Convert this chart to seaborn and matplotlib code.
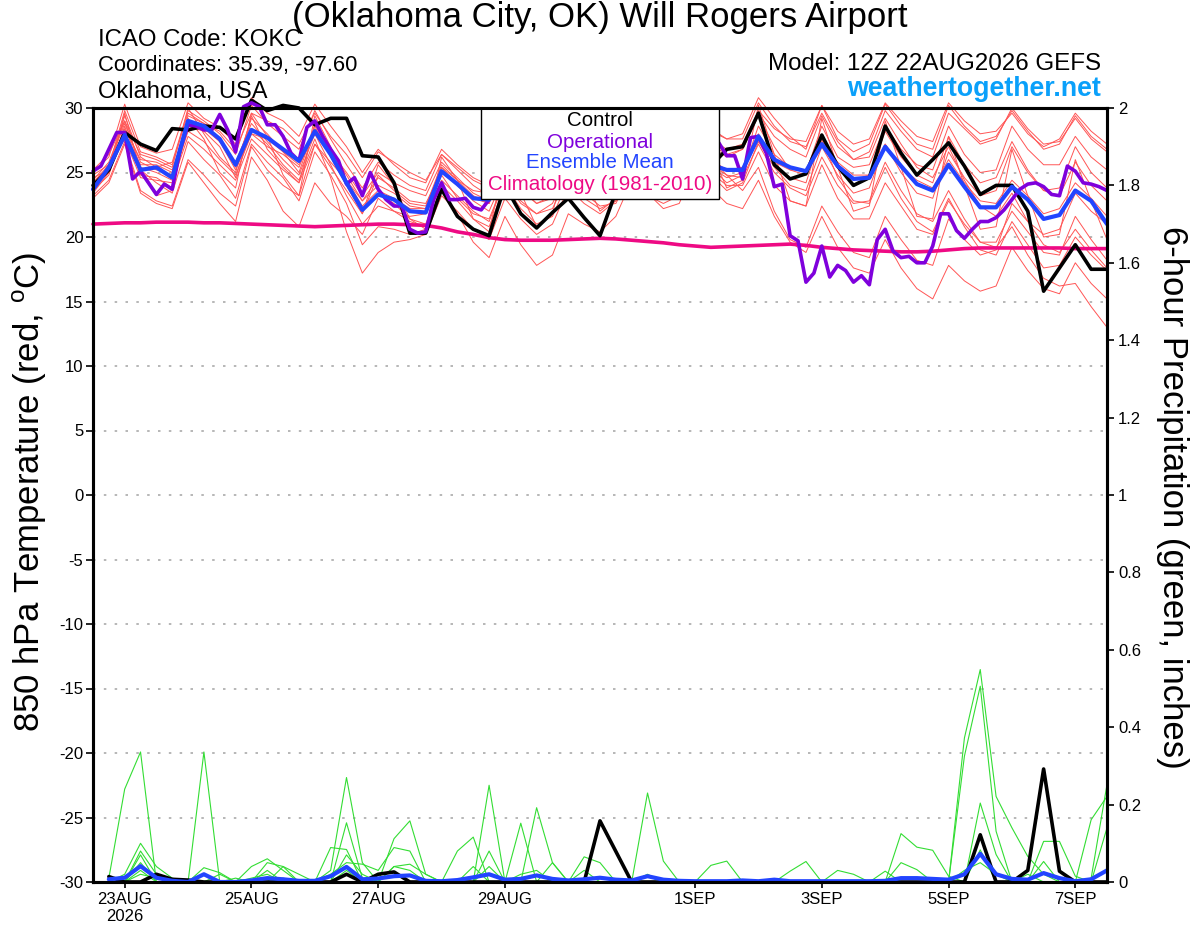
import pandas as pd
import seaborn as sns
import matplotlib.pyplot as plt
from matplotlib.patches import Rectangle


# run start times: temperature from 12Z 22AUG (6h steps, operational 3h), precip from 18Z 22AUG
temp_start = "2026-08-22 12:00"
prcp_start = "2026-08-22 18:00"

xtick_dates = ["2026-08-23", "2026-08-25", "2026-08-27", "2026-08-29",
               "2026-09-01", "2026-09-03", "2026-09-05", "2026-09-07"]
xtick_labels = ["23AUG\n2026", "25AUG", "27AUG", "29AUG", "1SEP", "3SEP", "5SEP", "7SEP"]

# 850 hPa temperature (C)
temp_control = [24.0, 25.2, 28.1, 27.2, 26.7, 28.4, 28.3, 28.6, 28.5, 27.6,
                30.6, 29.8, 30.2, 30.0, 28.7, 29.2, 29.2, 26.3, 26.2, 24.2,
                20.3, 20.3, 23.7, 21.6, 20.6, 20.1, 24.0, 21.8, 20.7, 21.9,
                23.0, 21.5, 20.1, 23.5, 26.0, 24.8, 24.2, 25.5, 27.0, 25.5,
                26.8, 27.0, 29.6, 25.6, 24.5, 24.9, 27.9, 25.5, 24.0, 24.6,
                28.6, 26.5, 24.8, 26.0, 27.3, 25.5, 23.3, 24.0, 24.0, 22.0,
                15.8, 17.6, 19.4, 17.5, 17.5]

temp_mean = [23.7, 25.4, 27.9, 25.2, 25.4, 24.6, 29.0, 28.6, 27.6, 25.6,
             28.3, 27.7, 26.8, 25.9, 28.2, 26.4, 24.2, 22.1, 23.3, 22.9,
             22.0, 21.9, 25.1, 24.1, 23.0, 22.9, 24.5, 23.6, 23.3, 23.8,
             25.0, 24.2, 23.6, 24.5, 26.0, 25.0, 24.6, 25.3, 26.8, 25.6,
             25.2, 25.2, 27.8, 26.0, 25.4, 25.1, 27.2, 25.5, 24.5, 24.6,
             27.0, 25.5, 24.1, 23.6, 25.6, 23.9, 22.3, 22.3, 23.9, 22.9,
             21.4, 21.7, 23.6, 22.8, 21.0]

temp_climo = [21.0, 21.05, 21.1, 21.1, 21.15, 21.15, 21.15, 21.1, 21.1, 21.05,
              21.0, 20.95, 20.9, 20.85, 20.8, 20.85, 20.9, 20.95, 21.0, 21.0,
              20.95, 20.9, 20.7, 20.4, 20.2, 19.95, 19.8, 19.75, 19.75, 19.75,
              19.8, 19.85, 19.9, 19.85, 19.75, 19.65, 19.55, 19.4, 19.3, 19.2,
              19.25, 19.3, 19.35, 19.4, 19.45, 19.35, 19.2, 19.1, 19.0, 18.95,
              18.9, 18.85, 18.85, 18.9, 19.0, 19.1, 19.15, 19.15, 19.15, 19.15,
              19.15, 19.15, 19.1, 19.1, 19.1]

# operational run, 3-hourly
temp_oper = [25.1, 25.5, 26.8, 28.1, 28.1, 24.5, 25.1, 24.2, 23.3, 24.1,
             23.7, 26.8, 28.7, 28.6, 28.3, 28.3, 29.5, 28.3, 26.6, 30.1,
             30.4, 30.1, 28.7, 28.7, 27.8, 26.5, 25.9, 28.5, 29.0, 27.8,
             26.8, 25.9, 24.1, 24.6, 23.2, 25.0, 23.7, 22.9, 22.4, 22.4,
             20.6, 20.3, 20.4, 22.9, 24.2, 22.9, 22.9, 23.0, 22.3, 22.1,
             22.9, 23.8, 24.6, 24.2, 23.6, 23.4, 23.3, 23.5, 23.9, 24.6,
             25.2, 24.8, 24.3, 24.0, 23.8, 24.2, 25.0, 26.0, 26.6, 26.0,
             25.2, 25.0, 25.4, 26.2, 27.6, 28.4, 27.2, 26.8, 26.6, 27.3,
             26.3, 26.3, 24.5, 27.7, 27.8, 26.5, 23.9, 24.1, 20.1, 19.7,
             16.5, 17.2, 19.3, 16.9, 17.8, 17.4, 16.5, 17.0, 16.3, 19.8,
             20.6, 18.9, 18.4, 18.5, 18.0, 18.0, 19.3, 21.8, 21.8, 20.5,
             19.9, 20.6, 21.2, 21.2, 21.5, 22.1, 22.9, 23.7, 24.1, 24.2,
             23.9, 23.3, 23.2, 25.5, 25.1, 24.2, 24.1, 23.9, 23.6]

# ensemble members (red spaghetti)
temp_m01 = [25.0, 26.2, 30.3, 27.0, 26.5, 26.8, 30.4, 29.2, 28.5, 27.2, 30.8, 29.6, 29.0, 27.8, 30.3, 28.6,
            27.0, 25.0, 26.8, 25.6, 24.6, 24.2, 26.8, 25.6, 24.6, 24.0, 26.8, 25.2, 24.6, 25.0, 27.4, 26.2,
            25.6, 26.2, 28.6, 27.2, 26.6, 27.2, 29.8, 28.2, 27.6, 28.0, 30.8, 29.2, 27.8, 26.8, 30.2, 27.6,
            26.6, 27.2, 30.3, 28.6, 27.2, 26.8, 30.2, 28.6, 27.4, 27.8, 29.8, 28.2, 26.8, 27.2, 29.4, 27.8, 26.8]
temp_m02 = [23.2, 24.4, 27.4, 23.6, 22.8, 22.4, 26.0, 24.8, 23.4, 22.4, 27.0, 25.2, 24.0, 23.2, 27.2, 25.4,
            23.6, 21.8, 24.8, 23.6, 22.6, 22.4, 25.6, 24.4, 23.2, 22.6, 25.8, 24.0, 23.0, 23.4, 26.2, 25.0,
            24.2, 24.8, 27.6, 26.2, 25.0, 25.8, 28.8, 27.2, 26.4, 26.8, 29.6, 27.8, 26.8, 26.2, 29.4, 27.0,
            26.0, 26.6, 29.8, 28.2, 26.8, 26.2, 29.6, 28.4, 27.2, 27.6, 30.0, 28.4, 27.2, 27.4, 29.2, 27.6, 26.6]
temp_m03 = [24.2, 25.6, 28.8, 25.8, 25.2, 24.8, 29.4, 28.8, 27.6, 25.4, 29.2, 28.0, 26.6, 25.0, 28.6, 26.2,
            24.0, 22.0, 23.4, 22.6, 21.4, 21.0, 24.4, 23.2, 22.0, 21.2, 24.4, 22.8, 21.8, 22.6, 25.2, 24.0,
            23.2, 23.8, 26.4, 25.0, 24.2, 24.6, 27.2, 25.6, 24.8, 24.6, 27.2, 25.0, 23.8, 23.2, 26.2, 24.0,
            22.6, 22.8, 25.8, 23.6, 21.8, 21.2, 23.6, 21.4, 19.6, 19.2, 20.8, 18.6, 16.8, 16.2, 16.4, 14.6, 13.0]
temp_m04 = [24.6, 25.2, 28.2, 24.8, 24.6, 23.8, 28.6, 28.2, 27.0, 24.6, 28.4, 27.2, 25.6, 24.4, 27.6, 24.6,
            20.4, 17.2, 18.8, 19.6, 19.8, 20.2, 23.2, 22.0, 20.6, 19.8, 23.0, 21.4, 20.2, 21.0, 23.8, 22.6,
            21.8, 22.8, 25.6, 24.0, 23.4, 24.0, 27.0, 25.4, 24.2, 24.8, 28.0, 25.6, 24.6, 24.2, 28.0, 25.6,
            24.4, 24.8, 28.2, 26.2, 24.8, 24.2, 27.8, 25.6, 24.2, 24.6, 27.4, 25.2, 23.6, 23.2, 25.8, 24.0, 22.8]
temp_m05 = [23.8, 25.0, 29.4, 26.2, 25.4, 25.8, 29.8, 29.0, 28.0, 26.4, 30.2, 28.8, 27.8, 26.8, 29.8, 27.6,
            25.6, 23.8, 25.8, 24.8, 24.0, 23.6, 26.4, 25.2, 24.0, 23.2, 26.0, 25.0, 24.2, 24.6, 27.0, 25.8,
            24.8, 25.2, 27.8, 26.6, 25.8, 26.4, 28.6, 27.0, 26.2, 26.8, 29.4, 27.0, 25.2, 24.8, 27.6, 24.6,
            22.8, 22.6, 25.4, 23.0, 21.2, 20.4, 23.0, 20.8, 19.0, 18.6, 21.2, 19.4, 17.6, 17.8, 20.0, 18.6, 17.4]
temp_m06 = [24.4, 25.8, 29.0, 25.4, 25.0, 24.4, 28.2, 27.4, 26.0, 24.8, 28.0, 27.0, 26.4, 25.4, 28.4, 26.8,
            24.8, 22.8, 24.0, 23.4, 22.4, 22.2, 25.4, 24.0, 22.8, 22.0, 24.8, 23.6, 22.6, 23.2, 26.0, 24.6,
            23.6, 24.0, 26.6, 25.4, 24.8, 25.2, 27.6, 26.0, 24.8, 23.6, 25.4, 22.0, 19.8, 19.2, 22.4, 20.4,
            18.8, 18.4, 21.6, 19.8, 18.2, 17.8, 21.4, 19.8, 18.6, 19.0, 22.6, 21.2, 20.2, 20.6, 23.4, 22.0, 21.0]
temp_m07 = [23.4, 25.0, 29.6, 25.0, 23.2, 23.6, 29.2, 27.6, 25.0, 23.8, 29.6, 27.8, 24.8, 23.2, 29.4, 27.0,
            24.0, 21.8, 25.6, 24.0, 21.4, 20.6, 26.2, 24.4, 21.4, 20.4, 26.0, 23.4, 20.8, 21.8, 27.0, 24.6,
            22.0, 23.0, 28.4, 25.8, 23.2, 24.2, 29.2, 26.6, 23.8, 24.4, 30.2, 26.4, 22.8, 22.4, 29.2, 25.4,
            22.0, 22.4, 29.0, 25.4, 21.6, 21.4, 27.8, 24.0, 20.6, 20.8, 26.8, 23.2, 20.0, 20.2, 26.0, 22.8, 19.8]
temp_m08 = [24.0, 25.4, 28.4, 26.0, 25.8, 25.2, 28.8, 28.4, 27.4, 25.8, 28.8, 27.4, 26.0, 24.8, 28.0, 25.6,
            23.2, 21.0, 22.4, 22.0, 21.2, 20.8, 23.6, 21.8, 19.6, 18.4, 21.6, 19.4, 17.8, 18.6, 21.8, 21.0,
            20.4, 21.6, 24.4, 23.2, 22.6, 23.2, 26.2, 24.8, 23.6, 24.2, 27.4, 25.4, 24.0, 23.6, 27.0, 24.8,
            23.4, 23.8, 27.2, 25.0, 23.4, 23.0, 26.6, 24.6, 23.2, 23.6, 27.0, 25.0, 23.6, 23.8, 27.0, 25.0, 23.8]
temp_m09 = [24.8, 25.6, 27.6, 24.6, 24.4, 24.2, 27.8, 26.8, 25.6, 24.4, 27.6, 26.4, 25.2, 24.2, 27.2, 25.8,
            24.4, 22.8, 24.6, 23.8, 22.8, 22.6, 25.0, 24.0, 23.0, 22.6, 25.6, 24.6, 24.0, 24.4, 27.2, 26.0,
            25.0, 25.6, 28.0, 27.2, 26.4, 26.8, 29.4, 28.4, 27.6, 27.6, 30.4, 28.6, 27.4, 27.0, 29.6, 27.4,
            26.0, 26.2, 29.2, 27.2, 25.4, 24.6, 27.0, 24.4, 22.4, 21.6, 23.4, 21.2, 19.4, 18.8, 20.6, 19.0, 17.6]
temp_m10 = [23.6, 25.2, 28.0, 25.6, 25.6, 25.0, 29.0, 28.6, 27.4, 25.2, 28.0, 27.6, 26.6, 25.6, 28.0, 26.4,
            24.4, 22.4, 23.6, 23.0, 22.2, 22.2, 25.4, 24.4, 23.6, 23.4, 25.0, 24.2, 23.6, 24.0, 25.4, 24.8,
            24.2, 24.8, 26.2, 25.4, 25.0, 25.6, 27.2, 26.0, 25.2, 25.4, 27.6, 25.8, 25.2, 25.2, 27.4, 25.8,
            24.8, 24.8, 27.2, 25.4, 24.4, 23.8, 26.0, 24.2, 22.8, 22.6, 24.4, 23.2, 21.8, 22.2, 24.2, 23.0, 21.6]
temp_m11 = [24.2, 25.4, 29.8, 26.6, 26.2, 25.6, 29.6, 28.8, 28.2, 26.8, 29.6, 29.0, 28.4, 27.2, 29.6, 27.8,
            26.4, 24.6, 26.6, 25.8, 25.0, 24.4, 26.4, 25.4, 24.4, 23.8, 26.2, 25.4, 24.8, 25.0, 26.8, 25.8,
            25.0, 25.2, 27.4, 26.4, 26.0, 26.4, 28.6, 27.6, 26.8, 27.2, 29.8, 28.4, 27.6, 27.4, 30.2, 28.2,
            27.2, 27.6, 30.4, 29.0, 27.8, 27.4, 30.4, 29.0, 28.0, 28.2, 29.6, 28.0, 27.0, 27.6, 29.6, 28.2, 27.2]
temp_m12 = [23.0, 24.2, 27.2, 23.4, 22.6, 22.2, 25.8, 24.2, 22.6, 21.2, 26.2, 24.4, 22.0, 20.8, 24.2, 22.6,
            21.6, 20.2, 23.0, 22.0, 21.6, 21.8, 24.8, 23.0, 21.8, 21.4, 24.4, 22.6, 21.8, 22.2, 24.8, 23.4,
            22.4, 22.6, 25.0, 23.4, 22.2, 22.6, 25.4, 23.8, 22.6, 22.2, 24.4, 21.6, 19.6, 18.8, 21.6, 19.2,
            17.6, 17.2, 19.8, 17.6, 16.0, 15.2, 17.8, 16.6, 15.8, 16.2, 19.2, 17.4, 16.0, 15.6, 18.0, 16.4, 15.2]
temp_m13 = [25.2, 26.4, 29.0, 26.4, 26.0, 25.4, 30.0, 28.0, 26.2, 25.0, 29.4, 26.8, 25.4, 24.2, 28.8, 26.6,
            25.0, 23.2, 25.0, 24.2, 23.6, 23.2, 25.8, 24.6, 23.4, 22.8, 25.4, 23.8, 22.6, 23.0, 25.6, 24.2,
            23.0, 23.4, 25.8, 24.6, 23.8, 24.4, 26.6, 25.4, 24.6, 25.0, 28.6, 26.4, 25.4, 25.0, 28.6, 26.2,
            25.4, 25.6, 28.6, 26.8, 25.6, 25.2, 28.6, 26.4, 25.0, 25.2, 28.6, 26.8, 25.6, 25.6, 27.8, 26.2, 25.2]
temp_m14 = [23.6, 24.8, 28.6, 25.2, 24.2, 23.4, 27.4, 26.0, 24.8, 23.0, 27.2, 25.8, 24.6, 22.8, 26.6, 24.8,
            22.6, 19.4, 20.8, 20.6, 20.2, 20.6, 24.0, 22.8, 21.4, 20.8, 24.0, 22.2, 21.0, 21.6, 24.4, 23.0,
            22.2, 22.8, 25.0, 24.0, 23.4, 23.8, 26.2, 25.0, 24.0, 24.0, 26.6, 24.0, 22.8, 22.4, 25.6, 23.0,
            21.4, 21.4, 24.2, 22.4, 20.6, 20.2, 22.8, 21.0, 19.6, 19.6, 22.0, 20.4, 18.8, 18.6, 21.6, 19.8, 18.2]

# 6-hour precipitation (inches)
prcp_control = [0.014, 0.0, 0.0, 0.02, 0.007, 0.005, 0.0, 0.0, 0.0, 0.0, 0.0, 0.0, 0.0, 0.0, 0.0, 0.02,
                0.0, 0.02, 0.026, 0.0, 0.0, 0.0, 0.0, 0.0, 0.0, 0.0, 0.0, 0.0, 0.0, 0.0, 0.0, 0.158,
                0.079, 0.0, 0.0, 0.0, 0.0, 0.0, 0.0, 0.0, 0.0, 0.0, 0.0, 0.0, 0.0, 0.0, 0.0, 0.0,
                0.0, 0.0, 0.0, 0.0, 0.0, 0.0, 0.0, 0.122, 0.0, 0.0, 0.03, 0.292, 0.028, 0.0, 0.0, 0.0]
prcp_mean = [0.007, 0.011, 0.041, 0.011, 0.003, 0.0, 0.02, 0.0, 0.0, 0.004, 0.01, 0.007, 0.003, 0.003, 0.015, 0.039,
             0.007, 0.009, 0.015, 0.017, 0.003, 0.002, 0.005, 0.012, 0.02, 0.006, 0.008, 0.017, 0.008, 0.004, 0.007, 0.011,
             0.006, 0.004, 0.015, 0.006, 0.003, 0.002, 0.002, 0.002, 0.004, 0.002, 0.006, 0.002, 0.002, 0.002, 0.002, 0.002,
             0.002, 0.003, 0.01, 0.01, 0.008, 0.006, 0.02, 0.073, 0.02, 0.008, 0.006, 0.023, 0.01, 0.002, 0.007, 0.03]

prcp_m01 = [0.01, 0.24, 0.336, 0.0, 0.0, 0.0, 0.0, 0.0, 0.0, 0.01, 0.02, 0.0, 0.0, 0.0, 0.03, 0.27,
            0.05, 0.0, 0.04, 0.03, 0.0, 0.0, 0.0, 0.0, 0.04, 0.0, 0.0, 0.0, 0.0, 0.0, 0.0, 0.0,
            0.0, 0.0, 0.015, 0.0, 0.0, 0.0, 0.0, 0.0, 0.0, 0.0, 0.0, 0.0, 0.0, 0.0, 0.0, 0.0,
            0.0, 0.0, 0.0, 0.0, 0.0, 0.0, 0.372, 0.549, 0.221, 0.14, 0.066, 0.02, 0.0, 0.0, 0.0, 0.0]
prcp_m02 = [0.0, 0.02, 0.1, 0.04, 0.01, 0.0, 0.336, 0.0, 0.0, 0.0, 0.0, 0.01, 0.0, 0.0, 0.0, 0.153,
            0.01, 0.0, 0.112, 0.158, 0.02, 0.0, 0.0, 0.0, 0.0, 0.0, 0.0, 0.0, 0.0, 0.0, 0.0, 0.0,
            0.0, 0.0, 0.0, 0.0, 0.0, 0.0, 0.0, 0.0, 0.0, 0.0, 0.0, 0.028, 0.053, 0.0, 0.0, 0.0,
            0.0, 0.0, 0.0, 0.0, 0.0, 0.0, 0.325, 0.506, 0.131, 0.0, 0.0, 0.0, 0.0, 0.0, 0.01, 0.252]
prcp_m03 = [0.0, 0.0, 0.08, 0.02, 0.0, 0.0, 0.037, 0.024, 0.0, 0.04, 0.06, 0.03, 0.0, 0.0, 0.089, 0.084,
            0.0, 0.0, 0.0, 0.0, 0.0, 0.0, 0.08, 0.116, 0.0, 0.0, 0.152, 0.0, 0.0, 0.0, 0.0, 0.0,
            0.0, 0.0, 0.0, 0.0, 0.0, 0.0, 0.0, 0.0, 0.0, 0.0, 0.0, 0.0, 0.0, 0.0, 0.0, 0.0,
            0.0, 0.0, 0.125, 0.09, 0.082, 0.015, 0.0, 0.204, 0.071, 0.0, 0.0, 0.0, 0.0, 0.0, 0.161, 0.221]
prcp_m04 = [0.015, 0.0, 0.07, 0.0, 0.0, 0.0, 0.0, 0.0, 0.0, 0.0, 0.0, 0.04, 0.02, 0.0, 0.02, 0.05,
            0.046, 0.03, 0.089, 0.08, 0.0, 0.0, 0.0, 0.0, 0.25, 0.0, 0.0, 0.0, 0.0, 0.0, 0.0, 0.0,
            0.0, 0.0, 0.0, 0.0, 0.0, 0.0, 0.0, 0.0, 0.0, 0.0, 0.0, 0.0, 0.0, 0.0, 0.0, 0.0,
            0.0, 0.0, 0.05, 0.032, 0.0, 0.0, 0.0, 0.083, 0.0, 0.0, 0.0, 0.105, 0.105, 0.015, 0.0, 0.14]
prcp_m05 = [0.0, 0.0, 0.05, 0.0, 0.0, 0.0, 0.0, 0.0, 0.0, 0.0, 0.0, 0.0, 0.0, 0.0, 0.0, 0.0,
            0.0, 0.0, 0.04, 0.046, 0.02, 0.0, 0.0, 0.0, 0.08, 0.0, 0.0, 0.192, 0.05, 0.0, 0.0, 0.0,
            0.0, 0.0, 0.23, 0.054, 0.0, 0.0, 0.0, 0.0, 0.0, 0.0, 0.0, 0.0, 0.0, 0.0, 0.03, 0.02,
            0.0, 0.028, 0.0, 0.0, 0.0, 0.0, 0.0, 0.0, 0.0, 0.0, 0.0, 0.0, 0.0, 0.0, 0.0, 0.0]
prcp_m06 = [0.0, 0.0, 0.03, 0.0, 0.0, 0.0, 0.0, 0.0, 0.01, 0.0, 0.0, 0.0, 0.0, 0.0, 0.0, 0.0,
            0.0, 0.0, 0.0, 0.0, 0.0, 0.0, 0.0, 0.0, 0.0, 0.0, 0.0, 0.0, 0.0, 0.0, 0.065, 0.05,
            0.0, 0.0, 0.0, 0.0, 0.0, 0.0, 0.043, 0.054, 0.0, 0.0, 0.0, 0.0, 0.0, 0.0, 0.0, 0.0,
            0.0, 0.0, 0.0, 0.0, 0.0, 0.0, 0.0, 0.0, 0.0, 0.0, 0.0, 0.053, 0.0, 0.0, 0.0, 0.0]
prcp_m07 = [0.0, 0.0, 0.0, 0.0, 0.0, 0.0, 0.0, 0.02, 0.0, 0.0, 0.03, 0.0, 0.0, 0.0, 0.0, 0.07,
            0.02, 0.0, 0.0, 0.0, 0.0, 0.0, 0.0, 0.04, 0.0, 0.0, 0.02, 0.03, 0.0, 0.0, 0.03, 0.0,
            0.0, 0.0, 0.02, 0.0, 0.0, 0.0, 0.0, 0.0, 0.0, 0.0, 0.0, 0.0, 0.0, 0.0, 0.0, 0.0,
            0.0, 0.0, 0.0, 0.0, 0.0, 0.0, 0.03, 0.05, 0.02, 0.0, 0.0, 0.0, 0.0, 0.0, 0.0, 0.0]
prcp_m08 = [0.0, 0.0, 0.02, 0.01, 0.0, 0.0, 0.0, 0.0, 0.0, 0.0, 0.05, 0.04, 0.0, 0.0, 0.0, 0.03,
            0.0, 0.0, 0.0, 0.0, 0.0, 0.0, 0.0, 0.0, 0.0, 0.0, 0.0, 0.0, 0.05, 0.0, 0.0, 0.0,
            0.0, 0.0, 0.0, 0.0, 0.0, 0.0, 0.0, 0.0, 0.0, 0.0, 0.0, 0.0, 0.0, 0.0, 0.0, 0.0,
            0.0, 0.0, 0.0, 0.0, 0.0, 0.0, 0.0, 0.0, 0.0, 0.0, 0.02, 0.0, 0.0, 0.0, 0.0, 0.0]


def members_frame(members, times, col):
    frames = []
    for n, vals in enumerate(members):
        frames.append(pd.DataFrame({"time": times, col: vals, "member": n}))
    return pd.concat(frames, ignore_index=True)


def make_plot(filename):
    t_temp = pd.date_range(temp_start, periods=len(temp_control), freq="6h")
    t_oper = pd.date_range(temp_start, periods=len(temp_oper), freq="3h")
    t_prcp = pd.date_range(prcp_start, periods=len(prcp_control), freq="6h")

    red = members_frame([temp_m01, temp_m02, temp_m03, temp_m04, temp_m05, temp_m06, temp_m07,
                         temp_m08, temp_m09, temp_m10, temp_m11, temp_m12, temp_m13, temp_m14],
                        t_temp, "temp")
    green = members_frame([prcp_m01, prcp_m02, prcp_m03, prcp_m04, prcp_m05, prcp_m06, prcp_m07,
                           prcp_m08], t_prcp, "prcp")

    fig = plt.figure(figsize=(12, 9.27), dpi=100)
    ax = fig.add_axes([93 / 1200, 1 - 882 / 927, 1014 / 1200, 774 / 927])

    # dotted temperature grid
    for v in range(-25, 30, 5):
        ax.axhline(v, color="#aaaaaa", lw=1.2, ls=(0, (1.5, 5)), zorder=0)

    sns.lineplot(data=red, x="time", y="temp", units="member", estimator=None,
                 color="#ff5555", lw=0.7, ax=ax, legend=False, clip_on=False)
    sns.lineplot(x=t_temp, y=temp_climo, color="#ee0a84", lw=2.6, ax=ax, clip_on=False)
    sns.lineplot(x=t_temp, y=temp_control, color="black", lw=2.6, ax=ax, clip_on=False)
    sns.lineplot(x=t_oper, y=temp_oper, color="#7f00dc", lw=2.6, ax=ax, clip_on=False)
    sns.lineplot(x=t_temp, y=temp_mean, color="#2244ff", lw=3.0, ax=ax, clip_on=False)

    ax.set_ylim(-30, 30)
    ax.set_yticks(range(-30, 31, 5))
    ax.set_xlim(pd.Timestamp("2026-08-22 12:00"), pd.Timestamp("2026-09-07 12:00"))
    ax.set_xticks([pd.Timestamp(d) for d in xtick_dates])
    ax.set_xticklabels(xtick_labels)
    ax.set_xlabel("")
    ax.set_ylabel("")
    ax.tick_params(axis="y", direction="out", length=5, width=1.2, labelsize=12, pad=2, colors="black")
    ax.tick_params(axis="x", direction="out", length=4, width=1.2, labelsize=12, pad=3, colors="black")

    # precipitation on the right axis
    ax2 = ax.twinx()
    sns.lineplot(data=green, x="time", y="prcp", units="member", estimator=None,
                 color="#33dd33", lw=0.8, ax=ax2, legend=False)
    sns.lineplot(x=t_prcp, y=prcp_control, color="black", lw=2.6, ax=ax2)
    sns.lineplot(x=t_prcp, y=prcp_mean, color="#2244ff", lw=3.0, ax=ax2)
    ax2.set_ylim(0, 2)
    ax2.set_yticks([i / 5 for i in range(11)])
    ax2.set_yticklabels([f"{i / 5:g}" for i in range(11)])
    ax2.set_ylabel("")
    ax2.tick_params(axis="y", direction="out", length=5, width=1.2, labelsize=12, pad=3, colors="black")
    ax2.set_xlim(ax.get_xlim())

    for a in (ax, ax2):
        for sp in a.spines.values():
            sp.set_linewidth(2.2)
            sp.set_color("black")
            sp.set_visible(True)

    # legend box
    box_x0, box_x1 = (481 - 93) / 1014, (719 - 93) / 1014
    box_y0 = (882 - 199) / 774
    ax.add_patch(Rectangle((box_x0, box_y0), box_x1 - box_x0, 1 - box_y0, transform=ax.transAxes,
                           facecolor="white", edgecolor="black", lw=1.0, zorder=20, clip_on=False))
    entries = [("Control", "black"), ("Operational", "#7f00dc"),
               ("Ensemble Mean", "#2244ff"), ("Climatology (1981-2010)", "#ee0a84")]
    for (label, color), ypix in zip(entries, [121, 142, 163, 185]):
        ax.text(0.5, (882 - ypix) / 774, label, color=color, fontsize=14.8, ha="center", va="center",
                transform=ax.transAxes, zorder=21)

    # header texts
    fig.text(0.5, 1 - 18 / 927, "(Oklahoma City, OK) Will Rogers Airport", fontsize=25,
             ha="center", va="center")
    fig.text(98 / 1200, 1 - 40 / 927, "ICAO Code: KOKC", fontsize=17.3, ha="left", va="center")
    fig.text(98 / 1200, 1 - 66 / 927, "Coordinates: 35.39, -97.60", fontsize=15.8, ha="left", va="center")
    fig.text(98 / 1200, 1 - 92 / 927, "Oklahoma, USA", fontsize=17, ha="left", va="center")
    fig.text(1101 / 1200, 1 - 64 / 927, "Model: 12Z 22AUG2026 GEFS", fontsize=17.4, ha="right", va="center")
    fig.text(1101 / 1200, 1 - 89 / 927, "weathertogether.net", fontsize=19.3, fontweight="bold",
             color="#0aa0fa", ha="right", va="center")

    # axis titles
    fig.text(30 / 1200, 1 - 492 / 927, r"850 hPa Temperature (red, $^\mathrm{o}$C)", fontsize=25,
             rotation=90, ha="center", va="center")
    fig.text(1172 / 1200, 1 - 497 / 927, "6-hour Precipitation (green, inches)", fontsize=25,
             rotation=270, ha="center", va="center")

    fig.savefig(filename, dpi=100)


def main():
    sns.set_theme(style="ticks")
    plt.rcParams["font.family"] = ["Liberation Sans", "DejaVu Sans"]
    plt.rcParams["text.color"] = "black"
    plt.rcParams["mathtext.fontset"] = "custom"
    plt.rcParams["mathtext.rm"] = "Liberation Sans"
    plt.rcParams["axes.unicode_minus"] = False
    make_plot("out.png")


main()
